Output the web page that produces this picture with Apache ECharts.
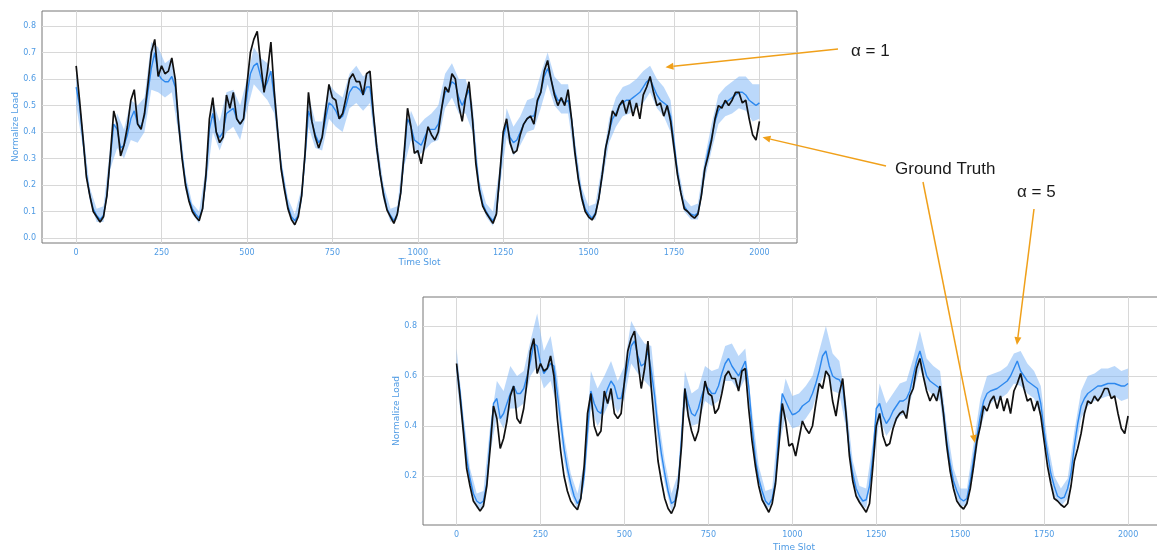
<!DOCTYPE html>
<html>
<head>
<meta charset="utf-8">
<title>Normalize Load prediction</title>
<script src="https://cdn.jsdelivr.net/npm/echarts@6/dist/echarts.min.js"></script>
<style>
  html, body { margin: 0; padding: 0; background: #fff; }
  #chart { width: 1157px; height: 552px; }
</style>
</head>
<body>
<div id="chart"></div>
<script>
// sampling steps (time slots) of the arrays below
const STEP = 10;
const BAND_STEP = 20;

const xTicks = [0, 250, 500, 750, 1000, 1250, 1500, 1750, 2000];
const yTicksTop = [0, 0.1, 0.2, 0.3, 0.4, 0.5, 0.6, 0.7, 0.8];
const yTicksBottom = [0.2, 0.4, 0.6, 0.8];

// ground truth, one value every 10 slots (same in both panels)
const groundTruth = [
  0.65, 0.52, 0.38, 0.23, 0.16, 0.10, 0.08, 0.06, 0.08, 0.16,
  0.31, 0.48, 0.43, 0.31, 0.35, 0.42, 0.52, 0.56, 0.43, 0.41,
  0.47, 0.58, 0.70, 0.75, 0.61, 0.65, 0.62, 0.63, 0.68, 0.60,
  0.43, 0.30, 0.20, 0.14, 0.10, 0.08, 0.065, 0.11, 0.24, 0.45,
  0.53, 0.40, 0.36, 0.38, 0.54, 0.49, 0.55, 0.45, 0.43, 0.45,
  0.58, 0.70, 0.75, 0.78, 0.66, 0.55, 0.63, 0.74, 0.55, 0.40,
  0.26, 0.18, 0.11, 0.07, 0.05, 0.08, 0.16, 0.32, 0.55, 0.44,
  0.38, 0.34, 0.38, 0.48, 0.58, 0.53, 0.52, 0.45, 0.47, 0.53,
  0.60, 0.62, 0.59, 0.59, 0.54, 0.62, 0.63, 0.47, 0.34, 0.24,
  0.16, 0.105, 0.08, 0.055, 0.09, 0.17, 0.32, 0.49, 0.42, 0.32,
  0.33, 0.28, 0.35, 0.42, 0.39, 0.37, 0.40, 0.49, 0.57, 0.55,
  0.62, 0.60, 0.50, 0.44, 0.53, 0.59, 0.45, 0.28, 0.18, 0.12,
  0.095, 0.075, 0.055, 0.09, 0.24, 0.40, 0.45, 0.36, 0.32, 0.33,
  0.39, 0.43, 0.45, 0.46, 0.43, 0.52, 0.55, 0.63, 0.67, 0.60,
  0.54, 0.50, 0.53, 0.50, 0.56, 0.45, 0.32, 0.22, 0.15, 0.10,
  0.08, 0.068, 0.09, 0.15, 0.24, 0.34, 0.40, 0.48, 0.46, 0.50,
  0.52, 0.47, 0.52, 0.46, 0.51, 0.45, 0.54, 0.57, 0.61, 0.55,
  0.50, 0.51, 0.46, 0.50, 0.44, 0.34, 0.24, 0.17, 0.11, 0.10,
  0.085, 0.075, 0.09, 0.16, 0.26, 0.31, 0.37, 0.45, 0.50, 0.49,
  0.52, 0.50, 0.52, 0.55, 0.55, 0.51, 0.52, 0.45, 0.39, 0.37,
  0.44
];

// alpha = 1 prediction (mean) every 10 slots
const predA1 = [
  0.57, 0.50, 0.37, 0.24, 0.16, 0.11, 0.085, 0.07, 0.085, 0.16,
  0.30, 0.43, 0.41, 0.34, 0.35, 0.39, 0.45, 0.48, 0.43, 0.42,
  0.46, 0.55, 0.64, 0.70, 0.62, 0.60, 0.59, 0.59, 0.61, 0.57,
  0.43, 0.31, 0.21, 0.15, 0.11, 0.09, 0.075, 0.11, 0.23, 0.41,
  0.47, 0.40, 0.38, 0.40, 0.47, 0.48, 0.49, 0.45, 0.43, 0.45,
  0.54, 0.62, 0.65, 0.66, 0.61, 0.56, 0.59, 0.63, 0.53, 0.40,
  0.27, 0.19, 0.12, 0.08, 0.065, 0.085, 0.16, 0.31, 0.48, 0.44,
  0.39, 0.36, 0.38, 0.45, 0.51, 0.50, 0.48, 0.45, 0.46, 0.50,
  0.55, 0.57, 0.57, 0.56, 0.54, 0.57, 0.57, 0.46, 0.34, 0.24,
  0.17, 0.11, 0.085, 0.065, 0.09, 0.17, 0.31, 0.45, 0.42, 0.37,
  0.36, 0.35, 0.38, 0.41, 0.41, 0.41, 0.43, 0.49, 0.55, 0.56,
  0.59, 0.58, 0.53, 0.50, 0.53, 0.56, 0.45, 0.30, 0.19, 0.13,
  0.10, 0.08, 0.065, 0.09, 0.23, 0.38, 0.43, 0.38, 0.36, 0.37,
  0.40, 0.43, 0.45, 0.46, 0.46, 0.51, 0.55, 0.61, 0.64, 0.60,
  0.55, 0.52, 0.52, 0.51, 0.52, 0.45, 0.33, 0.23, 0.16, 0.11,
  0.09, 0.075, 0.095, 0.15, 0.24, 0.34, 0.40, 0.45, 0.47, 0.50,
  0.51, 0.52, 0.52, 0.53, 0.54, 0.55, 0.57, 0.59, 0.60, 0.57,
  0.54, 0.52, 0.51, 0.50, 0.46, 0.36, 0.25, 0.17, 0.12, 0.10,
  0.09, 0.085, 0.095, 0.16, 0.26, 0.33, 0.38, 0.44, 0.48, 0.50,
  0.51, 0.52, 0.53, 0.54, 0.55, 0.55, 0.54, 0.52, 0.51, 0.50,
  0.51
];

// alpha = 1 spread, upper and lower edge every 20 slots
const predA1Hi = [
  0.63, 0.41, 0.19, 0.11, 0.12, 0.35, 0.47, 0.41, 0.52, 0.50,
  0.53, 0.74, 0.72, 0.66, 0.68, 0.48, 0.24, 0.13, 0.10, 0.27,
  0.52, 0.44, 0.55, 0.56, 0.50, 0.60, 0.72, 0.68, 0.66, 0.60,
  0.30, 0.15, 0.09, 0.19, 0.54, 0.44, 0.44, 0.58, 0.55, 0.53,
  0.62, 0.65, 0.61, 0.63, 0.38, 0.20, 0.11, 0.12, 0.35, 0.48,
  0.42, 0.45, 0.47, 0.50, 0.62, 0.66, 0.60, 0.60, 0.51, 0.22,
  0.13, 0.10, 0.27, 0.49, 0.42, 0.46, 0.52, 0.53, 0.62, 0.70,
  0.61, 0.58, 0.58, 0.37, 0.19, 0.12, 0.13, 0.28, 0.45, 0.53,
  0.57, 0.58, 0.60, 0.63, 0.65, 0.60, 0.57, 0.52, 0.28, 0.15,
  0.12, 0.13, 0.30, 0.43, 0.54, 0.57, 0.59, 0.61, 0.61, 0.58,
  0.58
];
const predA1Lo = [
  0.50, 0.34, 0.14, 0.06, 0.06, 0.26, 0.34, 0.30, 0.37, 0.36,
  0.40, 0.56, 0.55, 0.53, 0.55, 0.39, 0.18, 0.09, 0.055, 0.19,
  0.40, 0.33, 0.40, 0.42, 0.37, 0.48, 0.58, 0.55, 0.52, 0.47,
  0.24, 0.10, 0.045, 0.13, 0.42, 0.34, 0.33, 0.45, 0.42, 0.40,
  0.49, 0.51, 0.48, 0.51, 0.30, 0.14, 0.06, 0.07, 0.27, 0.37,
  0.31, 0.33, 0.36, 0.37, 0.49, 0.53, 0.47, 0.47, 0.40, 0.16,
  0.08, 0.045, 0.19, 0.38, 0.31, 0.35, 0.40, 0.41, 0.49, 0.58,
  0.50, 0.47, 0.47, 0.29, 0.13, 0.07, 0.07, 0.21, 0.36, 0.42,
  0.46, 0.47, 0.49, 0.51, 0.55, 0.49, 0.46, 0.40, 0.22, 0.10,
  0.07, 0.07, 0.22, 0.33, 0.43, 0.46, 0.47, 0.49, 0.48, 0.44,
  0.45
];

// alpha = 5 prediction (mean) every 10 slots
const predA5 = [
  0.64, 0.54, 0.40, 0.27, 0.19, 0.13, 0.10, 0.09, 0.10, 0.17,
  0.34, 0.49, 0.51, 0.43, 0.45, 0.49, 0.53, 0.56, 0.53, 0.53,
  0.55, 0.60, 0.66, 0.73, 0.72, 0.65, 0.61, 0.63, 0.65, 0.64,
  0.53, 0.42, 0.31, 0.23, 0.17, 0.12, 0.09, 0.11, 0.20, 0.38,
  0.54, 0.49, 0.46, 0.45, 0.51, 0.55, 0.58, 0.56, 0.51, 0.51,
  0.57, 0.645, 0.72, 0.74, 0.68, 0.64, 0.65, 0.70, 0.62, 0.52,
  0.39, 0.29, 0.21, 0.14, 0.09, 0.10, 0.16, 0.35, 0.55, 0.49,
  0.45, 0.44, 0.47, 0.52, 0.56, 0.55, 0.53, 0.53, 0.56, 0.61,
  0.65, 0.67, 0.64, 0.62, 0.60, 0.63, 0.66, 0.56, 0.40, 0.27,
  0.19, 0.14, 0.10, 0.085, 0.11, 0.18, 0.38, 0.53, 0.50, 0.47,
  0.445, 0.45, 0.46, 0.48, 0.49, 0.50, 0.53, 0.57, 0.62, 0.68,
  0.70, 0.64, 0.60, 0.59, 0.585, 0.56, 0.44, 0.30, 0.21, 0.15,
  0.12, 0.10, 0.105, 0.16, 0.28, 0.47, 0.49, 0.44, 0.41, 0.43,
  0.46, 0.48, 0.50, 0.50, 0.51, 0.54, 0.60, 0.66, 0.70, 0.65,
  0.60, 0.58, 0.57, 0.56, 0.55, 0.46, 0.34, 0.25, 0.18, 0.14,
  0.11, 0.10, 0.11, 0.18, 0.27, 0.36, 0.44, 0.50, 0.53, 0.54,
  0.545, 0.55, 0.56, 0.57, 0.58, 0.60, 0.63, 0.66, 0.62, 0.60,
  0.58, 0.57, 0.56, 0.55, 0.49, 0.38, 0.29, 0.21, 0.16, 0.12,
  0.11, 0.115, 0.15, 0.21, 0.32, 0.41, 0.48, 0.51, 0.53, 0.54,
  0.55, 0.56, 0.56, 0.565, 0.57, 0.57, 0.57, 0.565, 0.56, 0.56,
  0.57
];

// alpha = 5 spread, upper and lower edge every 20 slots
const predA5Hi = [
  0.71, 0.45, 0.23, 0.13, 0.14, 0.40, 0.58, 0.54, 0.64, 0.60,
  0.62, 0.74, 0.85, 0.70, 0.76, 0.60, 0.36, 0.21, 0.13, 0.25,
  0.62, 0.55, 0.60, 0.66, 0.58, 0.64, 0.82, 0.77, 0.73, 0.72,
  0.45, 0.26, 0.13, 0.21, 0.62, 0.53, 0.55, 0.64, 0.62, 0.63,
  0.72, 0.73, 0.68, 0.71, 0.46, 0.24, 0.14, 0.15, 0.44, 0.59,
  0.52, 0.53, 0.56, 0.60, 0.70, 0.80, 0.69, 0.66, 0.50, 0.26,
  0.16, 0.15, 0.34, 0.57, 0.49, 0.53, 0.57, 0.58, 0.67, 0.78,
  0.67, 0.64, 0.62, 0.40, 0.23, 0.15, 0.15, 0.33, 0.51, 0.60,
  0.61, 0.62, 0.64, 0.69, 0.70, 0.65, 0.62, 0.56, 0.34, 0.20,
  0.15, 0.19, 0.38, 0.54, 0.60, 0.61, 0.63, 0.63, 0.64, 0.62,
  0.63
];
const predA5Lo = [
  0.58, 0.36, 0.16, 0.07, 0.07, 0.29, 0.44, 0.39, 0.47, 0.47,
  0.49, 0.60, 0.64, 0.55, 0.58, 0.47, 0.26, 0.13, 0.065, 0.16,
  0.47, 0.40, 0.45, 0.51, 0.45, 0.51, 0.65, 0.61, 0.58, 0.55,
  0.33, 0.17, 0.06, 0.12, 0.48, 0.40, 0.41, 0.50, 0.48, 0.50,
  0.58, 0.58, 0.54, 0.59, 0.35, 0.15, 0.07, 0.08, 0.32, 0.44,
  0.39, 0.40, 0.43, 0.47, 0.56, 0.62, 0.54, 0.53, 0.39, 0.17,
  0.09, 0.07, 0.23, 0.43, 0.36, 0.40, 0.44, 0.45, 0.54, 0.63,
  0.55, 0.52, 0.50, 0.29, 0.14, 0.08, 0.08, 0.22, 0.39, 0.48,
  0.50, 0.51, 0.53, 0.57, 0.56, 0.53, 0.51, 0.44, 0.25, 0.12,
  0.08, 0.11, 0.27, 0.43, 0.48, 0.50, 0.51, 0.52, 0.52, 0.50,
  0.51
];

const TICK_BLUE = '#4f9be4';
const MEAN_BLUE = '#2d88ee';
const BAND_BLUE = 'rgba(120,178,245,0.5)';
const ORANGE = '#f0a01a';
const GRID_GREY = '#d8d8d8';

const toPoints = (arr, step) => arr.map((v, i) => [i * step, v]);

function xAxisFor(gi, gap) {
  return {
    gridIndex: gi, type: 'value', min: -100, max: 2110,
    axisLine: { show: false },
    axisTick: { show: false, customValues: xTicks },
    axisLabel: { customValues: xTicks, formatter: v => String(v), color: TICK_BLUE, fontSize: 8, margin: 6, fontFamily: 'DejaVu Sans' },
    splitLine: { show: true, lineStyle: { color: GRID_GREY, width: 1 } },
    name: 'Time Slot', nameLocation: 'middle', nameGap: gap,
    nameTextStyle: { color: TICK_BLUE, fontSize: 9, fontFamily: 'DejaVu Sans' }
  };
}

function yAxisFor(gi, min, max, ticks) {
  return {
    gridIndex: gi, type: 'value', min: min, max: max,
    axisLine: { show: false },
    axisTick: { show: false, customValues: ticks },
    axisLabel: { customValues: ticks, formatter: v => v.toFixed(1), color: TICK_BLUE, fontSize: 8, margin: 6, fontFamily: 'DejaVu Sans' },
    splitLine: { show: true, lineStyle: { color: GRID_GREY, width: 1 } },
    name: 'Normalize Load', nameLocation: 'middle', nameGap: 22, nameMoveOverlap: false,
    nameTextStyle: { color: TICK_BLUE, fontSize: 9, fontFamily: 'DejaVu Sans' }
  };
}

// spread band drawn as one polygon through the axis scales
function bandSeries(gi, hi, lo) {
  return {
    type: 'custom', xAxisIndex: gi, yAxisIndex: gi, silent: true,
    data: [[0, 0.3]],
    renderItem: (params, api) => {
      const upper = hi.map((v, i) => api.coord([i * BAND_STEP, v]));
      const lower = lo.map((v, i) => api.coord([i * BAND_STEP, v])).reverse();
      return { type: 'polygon', shape: { points: upper.concat(lower) }, style: { fill: BAND_BLUE } };
    }
  };
}

function panelSeries(gi, mean, hi, lo) {
  const base = { xAxisIndex: gi, yAxisIndex: gi, type: 'line', showSymbol: false, silent: true };
  return [
    bandSeries(gi, hi, lo),
    Object.assign({}, base, { name: 'mean' + gi, data: toPoints(mean, STEP),
      lineStyle: { color: MEAN_BLUE, width: 1.4 } }),
    Object.assign({}, base, { name: 'truth' + gi, data: toPoints(groundTruth, STEP),
      lineStyle: { color: '#111', width: 1.7 } })
  ];
}

const chart = echarts.init(document.getElementById('chart'));
chart.setOption({
  animation: false,
  backgroundColor: '#fff',
  grid: [
    { left: 42, top: 11, width: 755, height: 232, show: true, borderColor: '#777', borderWidth: 1, outerBoundsMode: 'none' },
    { left: 423, top: 297, width: 742, height: 228, show: true, borderColor: '#777', borderWidth: 1, outerBoundsMode: 'none' }
  ],
  xAxis: [xAxisFor(0, 14), xAxisFor(1, 18)],
  yAxis: [yAxisFor(0, -0.019, 0.857, yTicksTop), yAxisFor(1, 0.004, 0.916, yTicksBottom)],
  series: panelSeries(0, predA1, predA1Hi, predA1Lo).concat(panelSeries(1, predA5, predA5Hi, predA5Lo))
});

// annotations: arrow heads point at data positions
function arrow(from, to) {
  const ang = Math.atan2(to[1] - from[1], to[0] - from[0]);
  const len = 8, half = 3.5;
  const bx = to[0] - len * Math.cos(ang), by = to[1] - len * Math.sin(ang);
  const px = -Math.sin(ang) * half, py = Math.cos(ang) * half;
  return [
    { type: 'line', silent: true, z: 100, shape: { x1: from[0], y1: from[1], x2: bx, y2: by },
      style: { stroke: ORANGE, lineWidth: 1.5 } },
    { type: 'polygon', silent: true, z: 100, shape: { points: [to, [bx + px, by + py], [bx - px, by - py]] },
      style: { fill: ORANGE } }
  ];
}
const label = (text, x, y) => ({
  type: 'text', x: x, y: y, silent: true, z: 100,
  style: { text: text, fill: '#1a1a1a', font: '17px "Liberation Sans", Arial, sans-serif', verticalAlign: 'middle' }
});
const at = (gi, t, v) => chart.convertToPixel({ gridIndex: gi }, [t, v]);

chart.setOption({
  graphic: [].concat(
    arrow([838, 49], at(0, 1725, 0.645)),
    arrow([886, 166], at(0, 2009, 0.38)),
    arrow([923, 182], at(1, 1544, 0.332)),
    arrow([1034, 209], at(1, 1669, 0.724)),
    [label('α = 1', 851, 51), label('Ground Truth', 895, 169), label('α = 5', 1017, 192)]
  )
});
</script>
</body>
</html>
